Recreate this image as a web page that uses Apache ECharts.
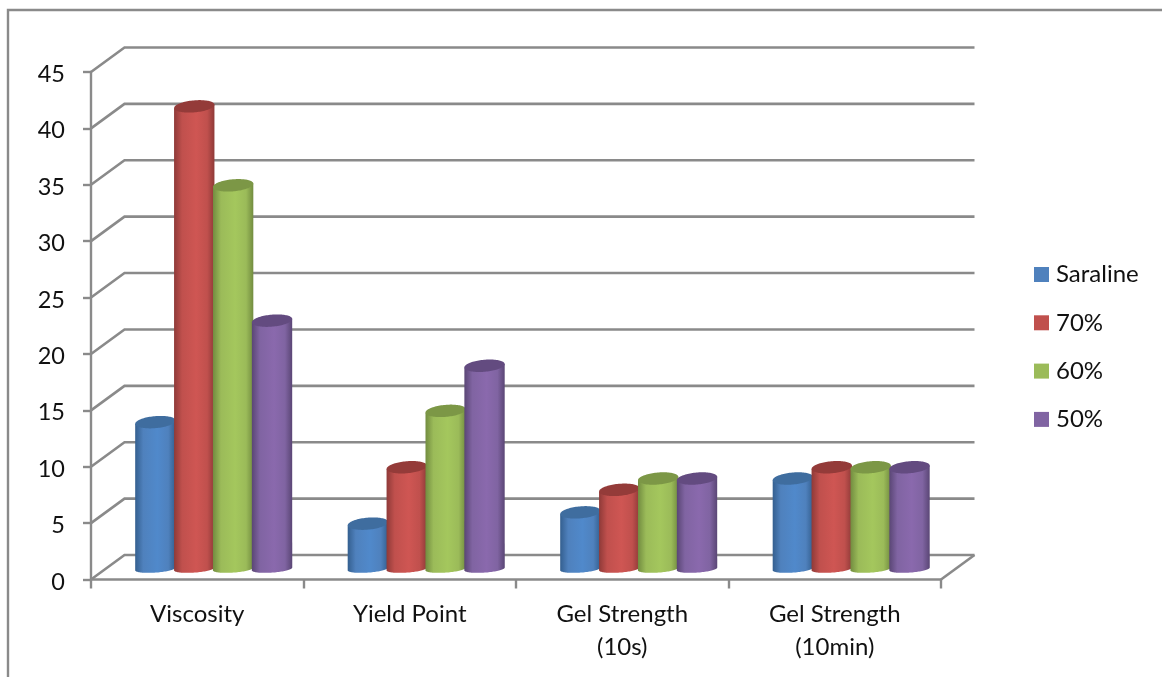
<!DOCTYPE html>
<html>
<head>
<meta charset="utf-8">
<style>html,body{margin:0;padding:0;background:#fff}#chart{width:1162px;height:677px}</style>
<script src="https://cdn.jsdelivr.net/npm/echarts@6/dist/echarts.min.js"></script>
</head>
<body>
<div id="chart"></div>
<script>
// Rheology properties by oil blend
const categories = ['Viscosity', 'Yield Point', 'Gel Strength\n(10s)', 'Gel Strength\n(10min)'];
const seriesNames = ['Saraline', '70%', '60%', '50%'];
const saraline = [13, 4, 5, 8];
const pct70 = [41, 9, 7, 9];
const pct60 = [34, 14, 8, 9];
const pct50 = [22, 18, 8, 9];
const yTicks = [0, 5, 10, 15, 20, 25, 30, 35, 40, 45];

const lineColor = '#8a8a8a';
const fontFamily = 'Lato, "Open Sans", sans-serif';
const depthX = 33.5, depthY = -24.5;

// base, darkened edge, highlight and cap shades for each cylinder colour
const palettes = [
  { base: '#4f81bd', edge: '#345f8f', light: '#5089cb', cap: '#3f6d9f' },
  { base: '#c0504d', edge: '#8f3a38', light: '#cf5653', cap: '#943b39' },
  { base: '#9bbb59', edge: '#728c40', light: '#a4c75d', cap: '#7c9746' },
  { base: '#8064a2', edge: '#5a4675', light: '#8a69ad', cap: '#634b80' }
];

// Point on a tilted ellipse, t in radians
function ellipsePoint(c, rx, ry, tilt, t) {
  const x = rx * Math.cos(t), y = ry * Math.sin(t);
  return [c[0] + x * Math.cos(tilt) - y * Math.sin(tilt),
          c[1] + x * Math.sin(tilt) + y * Math.cos(tilt)];
}

function cylinderRenderer(seriesIndex) {
  const pal = palettes[seriesIndex];
  return function (params, api) {
    const cat = api.value(0), val = api.value(1);
    const band = api.size([1, 0])[0];
    const width = band * 0.183;
    const groupShift = depthX / 2 - 0.3;
    const xOff = (seriesIndex - 1.5) * width + groupShift;
    const topP = api.coord([cat, val]);
    const baseP = api.coord([cat, 0]);
    const cTop = [topP[0] + xOff, topP[1] + depthY / 2 + 1.5];
    const cBase = [baseP[0] + xOff, baseP[1] - 10.5];
    const rx = width / 2 + 0.8;
    const ryTop = 6, ryBase = 3.6;
    const tiltTop = -0.09, tiltBase = -0.07;
    const side = [], cap = [];
    const steps = 48;
    // left end of the cap, down to the base arc, back up to the right end of the cap
    side.push(ellipsePoint(cTop, rx, ryTop, tiltTop, Math.PI));
    for (let i = 0; i <= steps; i++) {
      side.push(ellipsePoint(cBase, rx, ryBase, tiltBase, Math.PI - Math.PI * i / steps));
    }
    side.push(ellipsePoint(cTop, rx, ryTop, tiltTop, 0));
    for (let i = 0; i <= steps * 2; i++) {
      cap.push(ellipsePoint(cTop, rx, ryTop, tiltTop, 2 * Math.PI * i / (steps * 2)));
    }
    const sideFill = new echarts.graphic.LinearGradient(0, 0, 1, 0, [
      { offset: 0, color: pal.edge },
      { offset: 0.2, color: pal.base },
      { offset: 0.55, color: pal.light },
      { offset: 0.82, color: pal.base },
      { offset: 1, color: pal.edge }
    ]);
    return {
      type: 'group',
      children: [
        { type: 'polygon', shape: { points: side }, style: { fill: sideFill } },
        { type: 'polygon', shape: { points: cap }, style: { fill: pal.cap } }
      ]
    };
  };
}

// Side gridlines, back wall gridlines and the right edge of the floor
function wallRenderer(params, api) {
  const v = api.value(0);
  const y = api.coord([0, v])[1];
  const left = params.coordSys.x, right = left + params.coordSys.width;
  const children = [{
    type: 'polyline',
    shape: { points: [[left, y], [left + depthX, y + depthY], [right + depthX, y + depthY]] },
    style: { fill: 'none', stroke: lineColor, lineWidth: 2.6 }
  }];
  if (v === 0) {
    children.push({
      type: 'line',
      shape: { x1: right, y1: y, x2: right + depthX, y2: y + depthY },
      style: { stroke: lineColor, lineWidth: 2.6 }
    });
  }
  return { type: 'group', children };
}

const seriesValues = [saraline, pct70, pct60, pct50];

const chart = echarts.init(document.getElementById('chart'), null, { renderer: 'canvas' });
chart.setOption({
  animation: false,
  backgroundColor: '#ffffff',
  textStyle: { fontFamily },
  graphic: [{
    type: 'polyline',
    silent: true,
    shape: { points: [[8, 677], [8, 10], [1162, 10]] },
    style: { fill: 'none', stroke: lineColor, lineWidth: 2.4 }
  }],
  grid: { left: 91, top: 72, width: 850, height: 507.5 },
  legend: {
    orient: 'vertical',
    left: 1034,
    top: 260,
    padding: 0,
    icon: 'rect',
    itemWidth: 15,
    itemHeight: 15,
    itemGap: 19.3,
    selectedMode: false,
    data: seriesNames,
    textStyle: { fontFamily, fontSize: 24, color: '#111', lineHeight: 29, padding: [0, 0, 0, 2] }
  },
  xAxis: {
    type: 'category',
    data: categories,
    axisLine: { lineStyle: { color: lineColor, width: 2.6 } },
    axisTick: { show: true, length: 9, lineStyle: { color: lineColor, width: 2.4 } },
    axisLabel: { color: '#111', fontFamily, fontSize: 24, lineHeight: 33, margin: 18, interval: 0 },
    splitLine: { show: false }
  },
  yAxis: {
    type: 'value',
    min: 0,
    max: 45,
    interval: 5,
    axisLine: { show: true, lineStyle: { color: lineColor, width: 2.4 } },
    axisTick: { show: true, length: 8, lineStyle: { color: lineColor, width: 2.4 } },
    axisLabel: { color: '#111', fontFamily, fontSize: 23.5, margin: 26, verticalAlign: 'top', lineHeight: 5 },
    splitLine: { show: false }
  },
  series: [
    {
      type: 'custom',
      name: 'walls',
      silent: true,
      clip: false,
      z: 1,
      encode: { y: 0 },
      data: yTicks.map(v => [v]),
      renderItem: wallRenderer
    }
  ].concat(seriesNames.map((name, i) => ({
    type: 'custom',
    name,
    clip: false,
    z: 2 + i,
    itemStyle: { color: palettes[i].base },
    encode: { x: 0, y: 1 },
    data: seriesValues[i].map((v, c) => [c, v]),
    renderItem: cylinderRenderer(i)
  })))
});
</script>
</body>
</html>
